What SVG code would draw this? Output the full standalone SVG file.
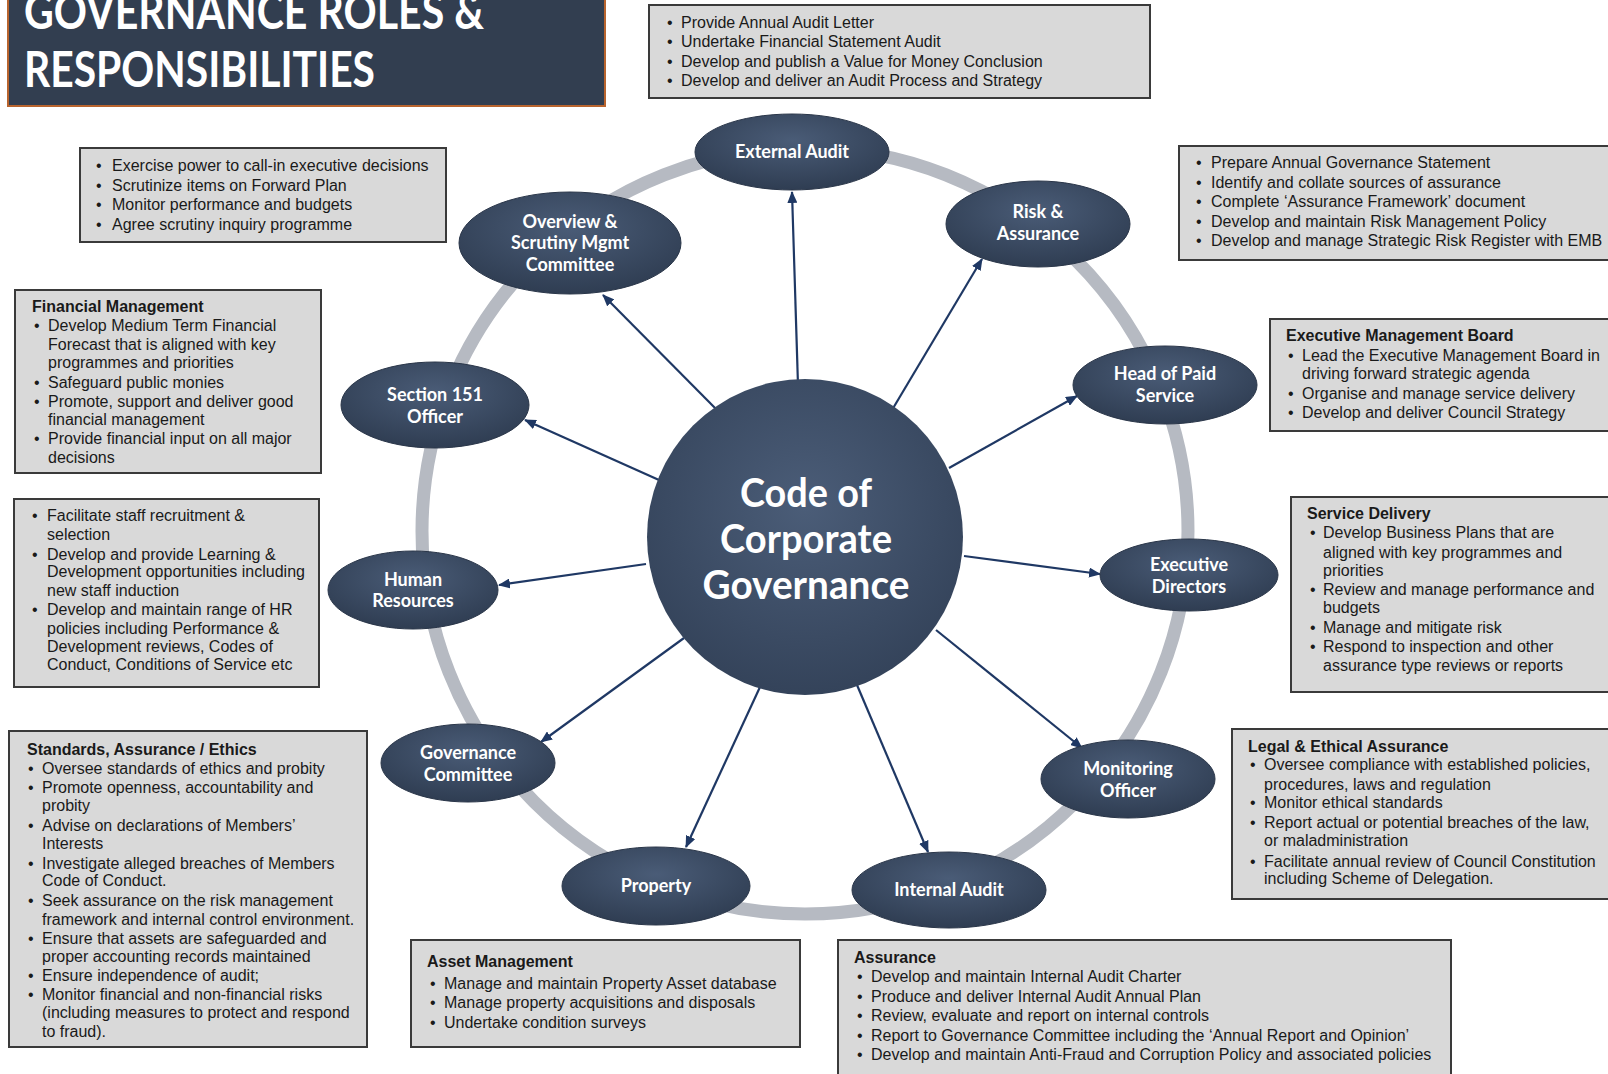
<svg xmlns="http://www.w3.org/2000/svg" width="1608" height="1074" viewBox="0 0 1608 1074">
<defs>
<style>
.box{fill:#D9D9D9;stroke:#3A3A3A;stroke-width:2}
.bt{font-family:"Liberation Sans",Arial,sans-serif;font-size:16px;fill:#1A1A1A}
.bh{font-family:"Liberation Sans",Arial,sans-serif;font-size:16px;font-weight:bold;fill:#1A1A1A}
.node{fill:url(#ng);stroke:#2A3649;stroke-width:1}
.nt{font-family:Lato,"Open Sans",sans-serif;font-size:18px;font-weight:bold;fill:#FFFFFF;text-anchor:middle}
.ct{font-family:Lato,"Open Sans",sans-serif;font-size:40px;font-weight:bold;fill:#FFFFFF;text-anchor:middle}
.conn line{stroke:#1F3864;stroke-width:2.2;marker-end:url(#ah)}
</style>
<radialGradient id="ng" cx="50%" cy="35%" r="65%">
<stop offset="0" stop-color="#4A5C77"/>
<stop offset="1" stop-color="#2F3D52"/>
</radialGradient>
<radialGradient id="cg" cx="50%" cy="40%" r="60%">
<stop offset="0" stop-color="#4B5D78"/>
<stop offset="1" stop-color="#34435A"/>
</radialGradient>
<marker id="ah" markerWidth="12" markerHeight="10" refX="11" refY="5" orient="auto" markerUnits="userSpaceOnUse">
<path d="M0,0 L12,5 L0,10 Z" fill="#1F3864"/>
</marker>
</defs>
<rect width="1608" height="1074" fill="#FFFFFF"/>

<g id="title">
<rect x="8" y="-4" width="597" height="110" fill="#323E50" stroke="#B8642E" stroke-width="2"/>
<text x="24" y="29" font-family="Lato,'Open Sans',sans-serif" font-size="50" font-weight="bold" fill="#FFFFFF" textLength="460" lengthAdjust="spacingAndGlyphs">GOVERNANCE ROLES &amp;</text>
<text x="24" y="87" font-family="Lato,'Open Sans',sans-serif" font-size="50" font-weight="bold" fill="#FFFFFF" textLength="351" lengthAdjust="spacingAndGlyphs">RESPONSIBILITIES</text>
</g>

<g id="ring"><circle cx="805" cy="531" r="383" fill="none" stroke="#B6BAC2" stroke-width="13"/></g>

<g id="connectors" class="conn">
<line x1="798" y1="385" x2="792" y2="192"/>
<line x1="892" y1="410" x2="982" y2="259"/>
<line x1="718" y1="411" x2="603" y2="295"/>
<line x1="659" y1="480" x2="525" y2="420"/>
<line x1="949" y1="468" x2="1077" y2="396"/>
<line x1="646" y1="564" x2="499" y2="585"/>
<line x1="964" y1="556" x2="1100" y2="574"/>
<line x1="684" y1="638" x2="541" y2="742"/>
<line x1="936" y1="630" x2="1082" y2="748"/>
<line x1="760" y1="687" x2="686" y2="847"/>
<line x1="857" y1="685" x2="928" y2="852"/>
</g>

<g id="center">
<circle cx="805" cy="537" r="158" fill="url(#cg)"/>
<text class="ct" x="806" y="507" textLength="132" lengthAdjust="spacingAndGlyphs">Code of</text>
<text class="ct" x="806" y="553" textLength="172" lengthAdjust="spacingAndGlyphs">Corporate</text>
<text class="ct" x="806" y="599" textLength="207" lengthAdjust="spacingAndGlyphs">Governance</text>
</g>

<g id="node-external-audit"><ellipse class="node" cx="792" cy="152" rx="97" ry="38"/><text class="nt" x="792" y="158">External Audit</text></g>
<g id="node-overview"><ellipse class="node" cx="570" cy="243" rx="111" ry="51"/><text class="nt" x="570" y="228">Overview &amp;</text><text class="nt" x="570" y="249">Scrutiny Mgmt</text><text class="nt" x="570" y="271">Committee</text></g>
<g id="node-risk"><ellipse class="node" cx="1038" cy="224" rx="92" ry="43"/><text class="nt" x="1038" y="218">Risk &amp;</text><text class="nt" x="1038" y="240">Assurance</text></g>
<g id="node-s151"><ellipse class="node" cx="435" cy="405" rx="94" ry="43"/><text class="nt" x="435" y="401">Section 151</text><text class="nt" x="435" y="423">Officer</text></g>
<g id="node-hops"><ellipse class="node" cx="1165" cy="385" rx="92" ry="39"/><text class="nt" x="1165" y="380">Head of Paid</text><text class="nt" x="1165" y="402">Service</text></g>
<g id="node-hr"><ellipse class="node" cx="413" cy="590" rx="85" ry="39"/><text class="nt" x="413" y="586">Human</text><text class="nt" x="413" y="607">Resources</text></g>
<g id="node-exec"><ellipse class="node" cx="1189" cy="575" rx="89" ry="36"/><text class="nt" x="1189" y="571">Executive</text><text class="nt" x="1189" y="593">Directors</text></g>
<g id="node-govcom"><ellipse class="node" cx="468" cy="763" rx="87" ry="39"/><text class="nt" x="468" y="759">Governance</text><text class="nt" x="468" y="781">Committee</text></g>
<g id="node-monitoring"><ellipse class="node" cx="1128" cy="779" rx="87" ry="39"/><text class="nt" x="1128" y="775">Monitoring</text><text class="nt" x="1128" y="797">Officer</text></g>
<g id="node-property"><ellipse class="node" cx="656" cy="886" rx="94" ry="39"/><text class="nt" x="656" y="892">Property</text></g>
<g id="node-internal-audit"><ellipse class="node" cx="949" cy="890" rx="97" ry="38"/><text class="nt" x="949" y="896">Internal Audit</text></g>

<g id="box-external-audit">
<rect class="box" x="649" y="5" width="501" height="93"/>
<text class="bt" x="667" y="28">•</text><text class="bt" x="681" y="28">Provide Annual Audit Letter</text>
<text class="bt" x="667" y="47">•</text><text class="bt" x="681" y="47">Undertake Financial Statement Audit</text>
<text class="bt" x="667" y="67">•</text><text class="bt" x="681" y="67">Develop and publish a Value for Money Conclusion</text>
<text class="bt" x="667" y="86">•</text><text class="bt" x="681" y="86">Develop and deliver an Audit Process and Strategy</text>
</g>

<g id="box-overview">
<rect class="box" x="80" y="148" width="366" height="94"/>
<text class="bt" x="96" y="171">•</text><text class="bt" x="112" y="171">Exercise power to call-in executive decisions</text>
<text class="bt" x="96" y="191">•</text><text class="bt" x="112" y="191">Scrutinize items on Forward Plan</text>
<text class="bt" x="96" y="210">•</text><text class="bt" x="112" y="210">Monitor performance and budgets</text>
<text class="bt" x="96" y="230">•</text><text class="bt" x="112" y="230">Agree scrutiny inquiry programme</text>
</g>

<g id="box-risk">
<rect class="box" x="1179" y="146" width="440" height="114"/>
<text class="bt" x="1196" y="168">•</text><text class="bt" x="1211" y="168">Prepare Annual Governance Statement</text>
<text class="bt" x="1196" y="188">•</text><text class="bt" x="1211" y="188">Identify and collate sources of assurance</text>
<text class="bt" x="1196" y="207">•</text><text class="bt" x="1211" y="207">Complete ‘Assurance Framework’ document</text>
<text class="bt" x="1196" y="227">•</text><text class="bt" x="1211" y="227">Develop and maintain Risk Management Policy</text>
<text class="bt" x="1196" y="246">•</text><text class="bt" x="1211" y="246">Develop and manage Strategic Risk Register with EMB</text>
</g>

<g id="box-financial">
<rect class="box" x="15" y="290" width="306" height="183"/>
<text class="bh" x="32" y="312">Financial Management</text>
<text class="bt" x="34" y="331">•</text><text class="bt" x="48" y="331">Develop Medium Term Financial</text>
<text class="bt" x="48" y="350">Forecast that is aligned with key</text>
<text class="bt" x="48" y="368">programmes and priorities</text>
<text class="bt" x="34" y="388">•</text><text class="bt" x="48" y="388">Safeguard public monies</text>
<text class="bt" x="34" y="407">•</text><text class="bt" x="48" y="407">Promote, support and deliver good</text>
<text class="bt" x="48" y="425">financial management</text>
<text class="bt" x="34" y="444">•</text><text class="bt" x="48" y="444">Provide financial input on all major</text>
<text class="bt" x="48" y="463">decisions</text>
</g>

<g id="box-emb">
<rect class="box" x="1270" y="319" width="350" height="112"/>
<text class="bh" x="1286" y="341">Executive Management Board</text>
<text class="bt" x="1288" y="361">•</text><text class="bt" x="1302" y="361">Lead the Executive Management Board in</text>
<text class="bt" x="1302" y="379">driving forward strategic agenda</text>
<text class="bt" x="1288" y="399">•</text><text class="bt" x="1302" y="399">Organise and manage service delivery</text>
<text class="bt" x="1288" y="418">•</text><text class="bt" x="1302" y="418">Develop and deliver Council Strategy</text>
</g>

<g id="box-hr">
<rect class="box" x="14" y="499" width="305" height="188"/>
<text class="bt" x="32" y="521">•</text><text class="bt" x="47" y="521">Facilitate staff recruitment &amp;</text>
<text class="bt" x="47" y="540">selection</text>
<text class="bt" x="32" y="560">•</text><text class="bt" x="47" y="560">Develop and provide Learning &amp;</text>
<text class="bt" x="47" y="577">Development opportunities including</text>
<text class="bt" x="47" y="596">new staff induction</text>
<text class="bt" x="32" y="615">•</text><text class="bt" x="47" y="615">Develop and maintain range of HR</text>
<text class="bt" x="47" y="634">policies including Performance &amp;</text>
<text class="bt" x="47" y="652">Development reviews, Codes of</text>
<text class="bt" x="47" y="670">Conduct, Conditions of Service etc</text>
</g>

<g id="box-service">
<rect class="box" x="1291" y="497" width="330" height="195"/>
<text class="bh" x="1307" y="519">Service Delivery</text>
<text class="bt" x="1310" y="538">•</text><text class="bt" x="1323" y="538">Develop Business Plans that are</text>
<text class="bt" x="1323" y="558">aligned with key programmes and</text>
<text class="bt" x="1323" y="576">priorities</text>
<text class="bt" x="1310" y="595">•</text><text class="bt" x="1323" y="595">Review and manage performance and</text>
<text class="bt" x="1323" y="613">budgets</text>
<text class="bt" x="1310" y="633">•</text><text class="bt" x="1323" y="633">Manage and mitigate risk</text>
<text class="bt" x="1310" y="652">•</text><text class="bt" x="1323" y="652">Respond to inspection and other</text>
<text class="bt" x="1323" y="671">assurance type reviews or reports</text>
</g>

<g id="box-standards">
<rect class="box" x="9" y="731" width="358" height="316"/>
<text class="bh" x="27" y="755">Standards, Assurance / Ethics</text>
<text class="bt" x="28" y="774">•</text><text class="bt" x="42" y="774">Oversee standards of ethics and probity</text>
<text class="bt" x="28" y="793">•</text><text class="bt" x="42" y="793">Promote openness, accountability and</text>
<text class="bt" x="42" y="811">probity</text>
<text class="bt" x="28" y="831">•</text><text class="bt" x="42" y="831">Advise on declarations of Members’</text>
<text class="bt" x="42" y="849">Interests</text>
<text class="bt" x="28" y="869">•</text><text class="bt" x="42" y="869">Investigate alleged breaches of Members</text>
<text class="bt" x="42" y="886">Code of Conduct.</text>
<text class="bt" x="28" y="906">•</text><text class="bt" x="42" y="906">Seek assurance on the risk management</text>
<text class="bt" x="42" y="925">framework and internal control environment.</text>
<text class="bt" x="28" y="944">•</text><text class="bt" x="42" y="944">Ensure that assets are safeguarded and</text>
<text class="bt" x="42" y="962">proper accounting records maintained</text>
<text class="bt" x="28" y="981">•</text><text class="bt" x="42" y="981">Ensure independence of audit;</text>
<text class="bt" x="28" y="1000">•</text><text class="bt" x="42" y="1000">Monitor financial and non-financial risks</text>
<text class="bt" x="42" y="1018">(including measures to  protect and respond</text>
<text class="bt" x="42" y="1037">to fraud).</text>
</g>

<g id="box-legal">
<rect class="box" x="1232" y="729" width="390" height="170"/>
<text class="bh" x="1248" y="752">Legal &amp; Ethical Assurance</text>
<text class="bt" x="1250" y="770">•</text><text class="bt" x="1264" y="770">Oversee compliance with established policies,</text>
<text class="bt" x="1264" y="790">procedures, laws and regulation</text>
<text class="bt" x="1250" y="808">•</text><text class="bt" x="1264" y="808">Monitor ethical standards</text>
<text class="bt" x="1250" y="828">•</text><text class="bt" x="1264" y="828">Report actual or potential breaches of the law,</text>
<text class="bt" x="1264" y="846">or maladministration</text>
<text class="bt" x="1250" y="867">•</text><text class="bt" x="1264" y="867">Facilitate annual review of Council Constitution</text>
<text class="bt" x="1264" y="884">including Scheme of Delegation.</text>
</g>

<g id="box-asset">
<rect class="box" x="411" y="940" width="389" height="107"/>
<text class="bh" x="427" y="967">Asset Management</text>
<text class="bt" x="430" y="989">•</text><text class="bt" x="444" y="989">Manage and maintain Property Asset database</text>
<text class="bt" x="430" y="1008">•</text><text class="bt" x="444" y="1008">Manage property acquisitions and disposals</text>
<text class="bt" x="430" y="1028">•</text><text class="bt" x="444" y="1028">Undertake condition surveys</text>
</g>

<g id="box-assurance">
<rect class="box" x="838" y="940" width="613" height="140"/>
<text class="bh" x="854" y="963">Assurance</text>
<text class="bt" x="857" y="982">•</text><text class="bt" x="871" y="982">Develop and maintain Internal Audit Charter</text>
<text class="bt" x="857" y="1002">•</text><text class="bt" x="871" y="1002">Produce and deliver Internal Audit Annual Plan</text>
<text class="bt" x="857" y="1021">•</text><text class="bt" x="871" y="1021">Review, evaluate and report on internal controls</text>
<text class="bt" x="857" y="1041">•</text><text class="bt" x="871" y="1041">Report to Governance Committee including the ‘Annual Report and Opinion’</text>
<text class="bt" x="857" y="1060">•</text><text class="bt" x="871" y="1060">Develop and maintain Anti-Fraud and Corruption Policy and associated policies</text>
</g>
</svg>
